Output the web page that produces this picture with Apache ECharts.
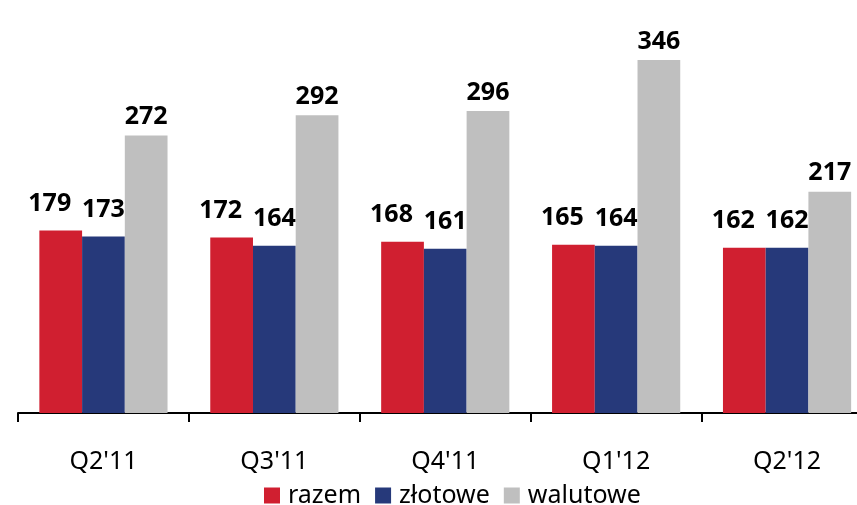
<!DOCTYPE html>
<html>
<head>
<meta charset="utf-8">
<script src="https://cdn.jsdelivr.net/npm/echarts@6/dist/echarts.min.js"></script>
<style>
html,body{margin:0;padding:0;background:#fff;}
#chart{width:857px;height:505px;}
</style>
</head>
<body>
<div id="chart"></div>
<script>
const categories = ["Q2'11", "Q3'11", "Q4'11", "Q1'12", "Q2'12"];
const seriesNames = ["razem", "złotowe", "walutowe"];
const razem = [179, 172, 168, 165, 162];
const zlotowe = [173, 164, 161, 164, 162];
const walutowe = [272, 292, 296, 346, 217];
const colors = ["#D01F30", "#26397A", "#BFBFBF"];

const font = "'Noto Sans', 'Open Sans', sans-serif";
const chart = echarts.init(document.getElementById('chart'), null, {renderer: 'canvas'});

const mk = (name, data, color, dist, offX) => ({
  name: name,
  type: 'bar',
  data: data,
  barGap: '0%',
  barCategoryGap: '25%',
  itemStyle: {color: color},
  label: {
    show: true,
    position: 'top',
    distance: dist,
    offset: [offX, 0],
    color: '#000',
    fontFamily: font,
    fontWeight: 'bold',
    fontSize: 25
  },
  emphasis: {disabled: true}
});

chart.setOption({
  animation: false,
  backgroundColor: '#fff',
  grid: {left: 18, width: 854.5, top: 5, height: 408, containLabel: false, outerBoundsMode: 'none'},
  legend: {
    data: seriesNames,
    left: 264,
    top: 483,
    padding: 0,
    itemWidth: 16,
    itemHeight: 16,
    itemGap: 14,
    icon: 'rect',
    textStyle: {fontFamily: font, fontSize: 25, color: '#000', padding: [0, 0, 0, 3]}
  },
  xAxis: {
    type: 'category',
    data: categories,
    axisLine: {lineStyle: {color: '#000', width: 2}},
    axisTick: {show: true, length: 9, lineStyle: {color: '#000', width: 2}},
    axisLabel: {margin: 36, color: '#000', fontFamily: font, fontSize: 25}
  },
  yAxis: {
    type: 'value',
    min: 0,
    max: 400,
    show: false,
    splitLine: {show: false}
  },
  series: [
    mk(seriesNames[0], razem, colors[0], 14, -11),
    mk(seriesNames[1], zlotowe, colors[1], 14, 0),
    mk(seriesNames[2], walutowe, colors[2], 6, 0)
  ]
});
</script>
</body>
</html>
